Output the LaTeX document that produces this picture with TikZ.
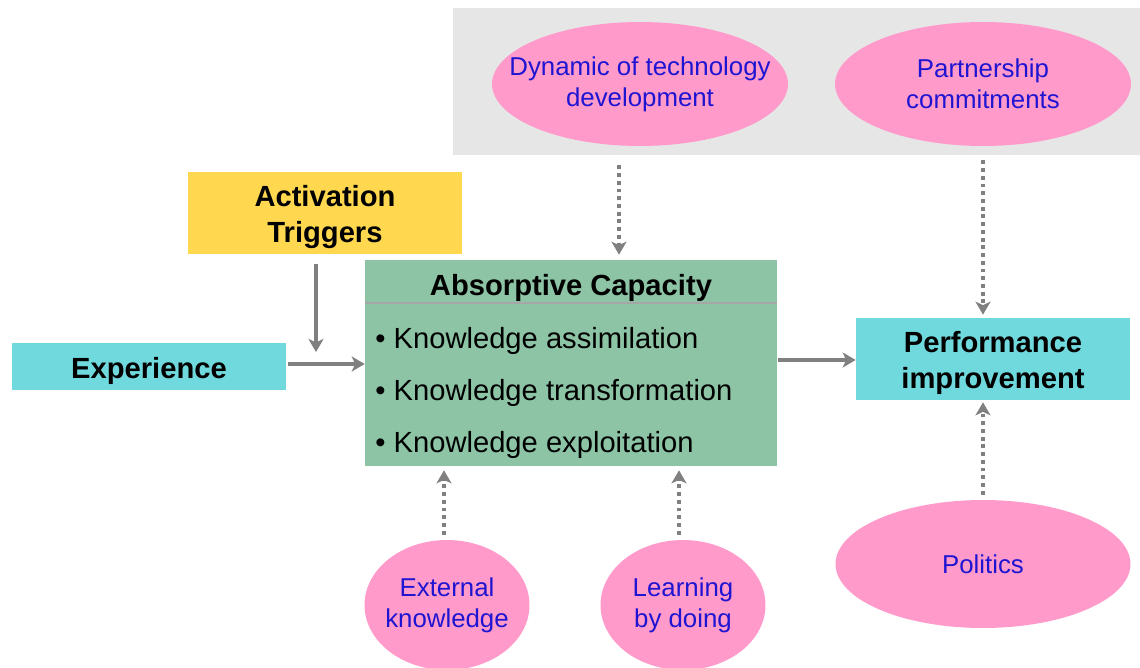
\documentclass[tikz,border=0pt]{standalone}
\usepackage{fontspec}
\setmainfont{Liberation Sans}
\usetikzlibrary{shapes.geometric, arrows.meta}
\tikzset{>={Stealth[length=0.26cm, width=0.3cm, inset=0.07cm]}}
\definecolor{trigYellow}{HTML}{FFD84F}
\definecolor{acGreen}{HTML}{8CC4A5}
\definecolor{boxCyan}{HTML}{70D9DD}
\definecolor{bgGray}{HTML}{E6E6E6}
\definecolor{bubblePink}{HTML}{FF9ACB}
\definecolor{bubbleBlue}{HTML}{1E14D2}
\definecolor{arrowGray}{HTML}{808080}
\tikzset{
  box/.style={rectangle, inner sep=0pt, minimum width=5.48cm, align=center,
    font=\fontsize{16.6}{20.4}\selectfont\bfseries},
  bubble/.style={ellipse, fill=bubblePink, inner xsep=-0.6cm, inner ysep=0pt, align=center,
    text=bubbleBlue, font=\fontsize{14.7}{17.6}\selectfont},
  item/.style={anchor=west, inner sep=0pt, font=\fontsize{16.6}{20}\selectfont},
  flow/.style={->, draw=arrowGray, line width=2.3pt},
  dotflow/.style={->, draw=arrowGray, line width=2.3pt, dash pattern=on 2.2pt off 2.2pt}
}
\begin{document}
\begin{tikzpicture}[x=0.02cm,y=-0.02cm]
  \useasboundingbox[fill=white] (0,0) rectangle (1140,667);
  \fill[bgGray] (453,8) rectangle (1140,155);

  \node[bubble, minimum width=5.92cm, minimum height=2.48cm] (dyn) at (640,84)
    {Dynamic of technology\\development};
  \node[bubble, minimum width=5.92cm, minimum height=2.48cm] (part) at (983,84)
    {Partnership\\commitments};
  \node[bubble, minimum width=3.3cm, minimum height=2.6cm] (ext) at (447,605)
    {External\\knowledge};
  \node[bubble, minimum width=3.3cm, minimum height=2.6cm] (learn) at (683,605)
    {Learning\\by doing};
  \node[bubble, minimum width=5.9cm, minimum height=2.56cm] (pol) at (983,564)
    {Politics};

  \node[box, fill=trigYellow, minimum height=1.64cm, text height=33.5pt, text depth=0pt] (trig) at (325,213)
    {Activation\\Triggers};
  \node[box, fill=boxCyan, minimum height=0.94cm, text height=13.7pt, text depth=0pt] (exp) at (149,366)
    {Experience};
  \node[box, fill=boxCyan, minimum height=1.64cm, text height=33.5pt, text depth=0pt] (perf) at (993,359)
    {Performance\\improvement};

  \node[rectangle, fill=acGreen, minimum width=8.24cm, minimum height=4.12cm] (ac) at (571,363) {};
  \node[box, inner sep=0pt] (acTitle) at (571,288) {Absorptive Capacity};
  \draw[gray!70, line width=0.6pt] (ac.west |- 0,303) -- (ac.east |- 0,303);
  \node[item] (ac1) at (375,341) {\textbullet\ Knowledge assimilation};
  \node[item] (ac2) at (375,393) {\textbullet\ Knowledge transformation};
  \node[item] (ac3) at (375,445) {\textbullet\ Knowledge exploitation};

  \coordinate (trigEnd) at (316,352);
  \draw[flow, shorten <=0.2cm] (trig.south -| trigEnd) -- (trigEnd);
  \draw[flow, shorten <=0.04cm] (exp.east |- 0,364) -- (ac.west |- 0,364);
  \draw[flow, shorten <=0.02cm] (ac.east |- 0,360) -- (perf.west |- 0,360);

  \draw[dotflow, shorten <=0.38cm, shorten >=0.1cm] ([xshift=-0.42cm]dyn.south) -- ([xshift=-0.42cm]dyn.south |- ac.north);
  \draw[dotflow, shorten <=0.28cm, shorten >=0.06cm] (part.south) -- (part.south |- perf.north);
  \draw[dotflow, shorten <=0.1cm, shorten >=0.04cm] (pol.north) -- (pol.north |- perf.south);
  \draw[dotflow, shorten <=0.1cm, shorten >=0.08cm] ([xshift=-0.06cm]ext.north) -- ([xshift=-0.06cm]ext.north |- ac.south);
  \draw[dotflow, shorten <=0.1cm, shorten >=0.08cm] ([xshift=-0.08cm]learn.north) -- ([xshift=-0.08cm]learn.north |- ac.south);
\end{tikzpicture}
\end{document}
